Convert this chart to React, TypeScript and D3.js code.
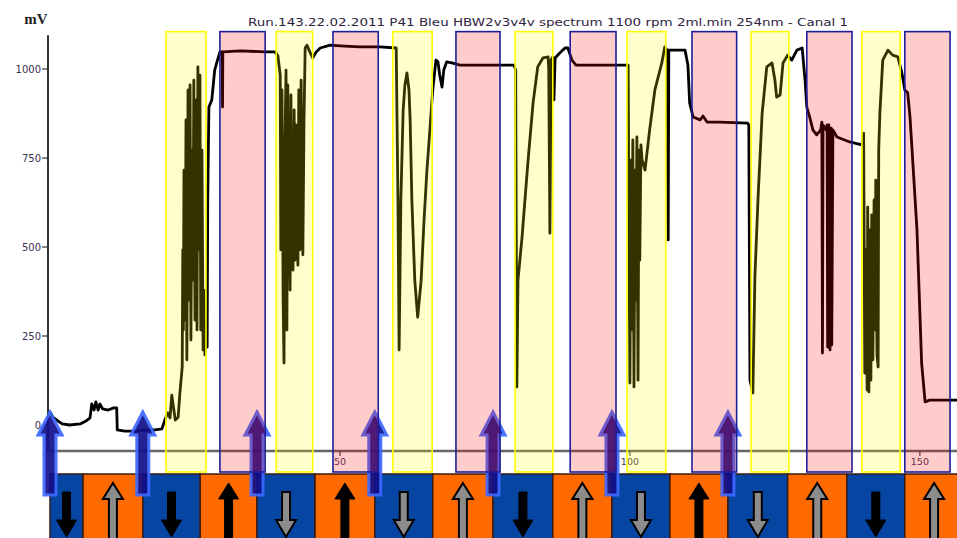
import React from 'react';
import * as d3 from 'd3';

// chromatogram trace: [time, mV]
const signal: [number, number][] = [
  [0, 37], [0.5, 22], [1.4, 11], [2.1, 3], [3.4, 0], [5.2, 3], [6.2, 11], [6.9, 20],
  [7.2, 59], [7.6, 42], [7.9, 65], [8.3, 42], [8.6, 59], [9.1, 45], [10.0, 42], [11.0, 48],
  [11.5, 48], [11.6, -14], [12.9, -17], [14.7, -17], [16.4, -14], [18.1, -14], [19.3, -11],
  [19.8, 14], [20.3, 34], [20.7, 20], [21.0, 84], [21.6, 14], [22.1, 22], [22.4, 90], [22.8, 163],
  [22.9, 492], [23.0, 267], [23.1, 716], [23.3, 295], [23.45, 857], [23.6, 183], [23.8, 941],
  [24.0, 351], [24.15, 955], [24.3, 239], [24.5, 772], [24.65, 407], [24.8, 969], [25.0, 295],
  [25.2, 913], [25.35, 267], [25.5, 1006], [25.7, 492], [25.85, 983], [26.0, 267], [26.2, 772],
  [26.4, 211], [26.55, 379], [26.7, 197], [26.9, 239],
  [27.1, 219], [27.2, 632], [27.4, 893], [27.9, 913], [28.4, 997], [28.8, 1020], [29.3, 1048],
  [29.7, 1048], [29.75, 893], [29.8, 1048], [32.8, 1051], [37.1, 1048], [38.8, 1048], [39.3, 1037],
  [39.7, 983], [39.8, 492], [40.0, 941], [40.2, 351], [40.35, 174], [40.5, 772], [40.7, 997],
  [40.85, 267], [41.0, 955], [41.2, 632], [41.4, 379], [41.55, 927], [41.7, 492], [41.9, 435],
  [42.1, 885], [42.25, 463], [42.4, 843], [42.6, 632], [42.75, 449], [42.9, 941], [43.1, 492],
  [43.3, 969], [43.45, 688], [43.6, 478], [43.8, 857], [44.0, 1059], [44.3, 1067], [44.8, 1048],
  [45.3, 1031], [45.9, 1048], [46.6, 1059], [48.3, 1067], [50.0, 1065], [53.4, 1062], [56.9, 1062],
  [59.7, 1059],
  [60.0, 632], [60.2, 211], [60.5, 632], [60.9, 885], [61.2, 955], [61.55, 989], [61.9, 941],
  [62.1, 857], [62.4, 632], [62.9, 407], [63.4, 303], [64.0, 407], [64.5, 576], [65.0, 716],
  [65.5, 829], [66.0, 941], [66.55, 1025], [66.9, 1020], [67.2, 983], [67.6, 949], [67.9, 997],
  [68.4, 1020], [69.3, 1017], [70.7, 1011], [75.9, 1011], [80.0, 1011], [80.3, 997],
  [80.5, 107], [80.7, 407], [81.4, 528], [82.4, 736], [83.3, 905], [84.1, 1006], [85.0, 1031],
  [85.9, 1034], [86.0, 997], [86.2, 539], [86.4, 1025], [86.7, 1034], [86.9, 913], [87.1, 1031],
  [87.9, 1045], [88.8, 1059], [89.3, 1059], [90.0, 1025], [90.7, 1011], [94.8, 1011], [99.3, 1011],
  [99.7, 1011], [99.8, 632], [100.0, 118], [100.2, 744], [100.3, 267], [100.5, 801], [100.7, 107],
  [100.9, 716], [101.0, 351], [101.2, 809], [101.4, 126], [101.55, 772], [101.7, 463], [101.9, 787],
  [102.1, 744], [102.6, 716], [103.4, 829], [104.3, 941], [105.5, 1017], [106.0, 1062],
  [106.4, 1053], [106.6, 520], [106.7, 1053], [107.2, 1053], [109.5, 1053], [110.0, 1011],
  [110.3, 905], [110.9, 865], [112.1, 857], [112.6, 868], [113.3, 851], [115.5, 851], [120.3, 848],
  [120.5, 843], [120.7, 126], [121.2, 90], [121.55, 416], [122.1, 640], [122.8, 876], [123.6, 1006],
  [124.5, 1017], [125.0, 969], [125.3, 921], [125.9, 927], [126.4, 1017], [127.2, 1039],
  [127.9, 1025], [128.8, 1053], [129.7, 1059], [130.2, 969], [130.5, 893], [131.0, 865],
  [131.55, 829], [132.2, 815], [132.9, 829], [133.1, 851], [133.2, 202], [133.3, 843], [133.8, 829],
  [134.0, 843], [134.1, 219], [134.3, 843], [134.5, 211], [134.7, 834], [134.8, 225], [135.0, 829],
  [135.7, 809], [137.9, 795], [140.0, 787],
  [140.3, 820], [140.5, 146], [140.7, 492], [140.9, 98], [141.0, 612], [141.2, 93], [141.4, 548],
  [141.55, 126], [141.7, 590], [141.9, 183], [142.1, 632], [142.2, 267], [142.4, 688], [142.6, 197],
  [142.8, 163], [142.9, 772], [143.1, 876], [143.6, 1025], [144.5, 1053], [145.3, 1039],
  [146.2, 1034], [146.9, 989], [147.4, 941], [147.9, 933], [148.3, 865], [149.5, 548], [150.3, 174],
  [150.9, 65], [151.7, 70], [156.4, 70],
];

const yTicks = [0, 250, 500, 750, 1000];
const xTicks = [50, 100, 150];

// collection windows (time ranges)
const yellowWindows: [number, number][] = [
  [20.0, 26.9], [39.0, 45.3], [59.1, 65.9], [80.2, 86.7], [99.5, 106.2], [120.9, 127.4], [140.0, 146.6],
];
const pinkWindows: [number, number][] = [
  [29.3, 37.1], [48.8, 56.6], [70.0, 77.6], [89.7, 97.6], [110.7, 118.4], [130.5, 138.3], [147.4, 155.2],
];

// valve strip under the axis
const stripEdges = [0, 5.7, 16.0, 25.9, 35.7, 45.7, 56.0, 66.0, 76.4, 86.7, 96.9, 106.9, 116.9, 127.2, 137.4, 147.4, 157.5];
const stripSolid = [true, false, true, true, false, true, false, false, true, false, false, true, false, false, true, false];
const injections = [0, 16.0, 35.7, 56.0, 76.4, 96.9, 116.9];

const title = 'Run.143.22.02.2011 P41 Bleu HBW2v3v4v spectrum 1100 rpm 2ml.min 254nm - Canal 1';

const W = 957;
const H = 538;

const bigArrow = (cx: number) => {
  const tip = 412, base = 435, bottom = 495;
  return `M${cx},${tip} L${cx + 12},${base} L${cx + 6},${base} L${cx + 6},${bottom} L${cx - 6},${bottom} L${cx - 6},${base} L${cx - 12},${base} Z`;
};

const upArrow = (cx: number) => {
  const tip = 483, base = 499, bottom = 540;
  return `M${cx},${tip} L${cx + 10},${base} L${cx + 4},${base} L${cx + 4},${bottom} L${cx - 4},${bottom} L${cx - 4},${base} L${cx - 10},${base} Z`;
};

const downArrow = (cx: number) => {
  const top = 492, base = 520, tip = 537;
  return `M${cx - 4},${top} L${cx + 4},${top} L${cx + 4},${base} L${cx + 10},${base} L${cx},${tip} L${cx - 10},${base} L${cx - 4},${base} Z`;
};

export default function App() {
  const x = d3.scaleLinear().domain([0, 156.4]).range([50, 957]);
  const y = d3.scaleLinear().domain([0, 1000]).range([425, 69]);

  const line = d3.line<[number, number]>()
    .x(d => x(d[0]))
    .y(d => y(d[1]));

  const boxTop = y(1105);
  const boxBottom = y(-132);
  const axisY = y(-73);

  return (
    <svg width={W} height={H} style={{ position: 'absolute', left: 0, top: 0, background: '#fff' }}
      fontFamily="'DejaVu Sans', Verdana, sans-serif">
      <rect x={0} y={0} width={W} height={H} fill="#fff" />

      <text x={36} y={24} textAnchor="middle" fontFamily="'Liberation Serif', serif" fontWeight="bold" fontSize={15} fill="#222">mV</text>
      <text x={248} y={26} fontSize={10} fill="#2e2440" textLength={600} lengthAdjust="spacingAndGlyphs">{title}</text>

      {/* axes */}
      <line x1={48} x2={48} y1={y(1095)} y2={axisY} stroke="#333" strokeWidth={2} />
      {yTicks.map(t => (
        <g key={t}>
          <line x1={42} x2={48} y1={y(t)} y2={y(t)} stroke="#333" strokeWidth={1.2} />
          <text x={41} y={y(t) + 3.5} textAnchor="end" fontSize={10} fill="#3a3050">{t}</text>
        </g>
      ))}
      <line x1={50} x2={W} y1={axisY} y2={axisY} stroke="#666" strokeWidth={2.5} />
      {xTicks.map(t => (
        <g key={t}>
          <line x1={x(t)} x2={x(t)} y1={axisY} y2={axisY + 5} stroke="#444" strokeWidth={1.2} />
          <text x={x(t)} y={axisY + 14} textAnchor="middle" fontSize={9.5} fill="#4a3a5a">{t}</text>
        </g>
      ))}

      {/* trace */}
      <path d={line(signal) || ''} fill="none" stroke="#000" strokeWidth={2.8} strokeLinejoin="round" />

      {/* valve strip */}
      {stripEdges.slice(0, -1).map((e, i) => {
        const x0 = x(e);
        const x1 = x(stripEdges[i + 1]);
        const cx = (x0 + Math.min(x1, W + 20)) / 2;
        const down = i % 2 === 0;
        const solid = stripSolid[i];
        return (
          <g key={i}>
            <rect x={x0} y={474} width={x1 - x0} height={70} fill={down ? '#0646a2' : '#ff6a00'} stroke="#3a1a10" strokeWidth={1.5} />
            <path d={down ? downArrow(cx) : upArrow(cx)} fill={solid ? '#000' : '#8c8c8c'} stroke="#000" strokeWidth={solid ? 1 : 2} />
          </g>
        );
      })}

      {/* injection arrows */}
      {injections.map((t, i) => (
        <path key={i} d={bigArrow(x(t))} fill="#120f8a" stroke="#3c68ff" strokeWidth={3} opacity={0.92} />
      ))}

      {/* windows */}
      {yellowWindows.map(([a, b], i) => (
        <rect key={'y' + i} x={x(a)} y={boxTop} width={x(b) - x(a)} height={boxBottom - boxTop}
          fill="rgba(255,255,0,0.2)" stroke="#ffff00" strokeWidth={1.6} />
      ))}
      {pinkWindows.map(([a, b], i) => (
        <rect key={'p' + i} x={x(a)} y={boxTop} width={x(b) - x(a)} height={boxBottom - boxTop}
          fill="rgba(255,0,0,0.2)" stroke="#1e1e9a" strokeWidth={1.6} />
      ))}
    </svg>
  );
}
